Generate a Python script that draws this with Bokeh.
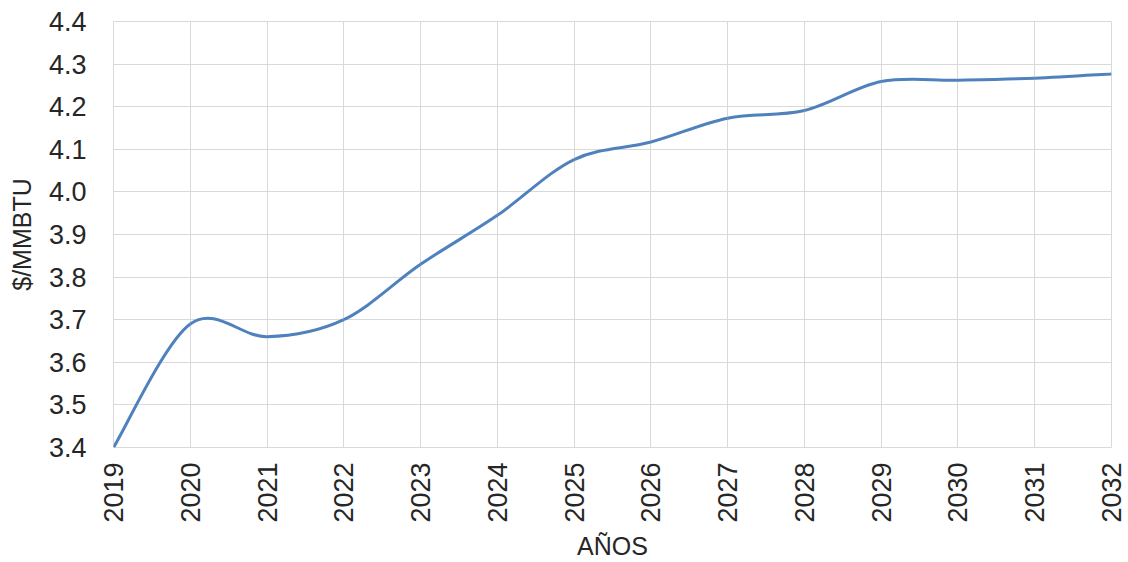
from bokeh.plotting import figure
from bokeh.models import Range1d, FixedTicker, ColumnDataSource, NumeralTickFormatter
from bokeh.embed import file_html
from bokeh.resources import INLINE
import math

years = [2019, 2020, 2021, 2022, 2023, 2024, 2025, 2026, 2027, 2028, 2029, 2030, 2031, 2032]
prices = [3.40, 3.69, 3.66, 3.70, 3.83, 3.945, 4.076, 4.117, 4.173, 4.191, 4.259, 4.262, 4.267, 4.277]
y_ticks = [3.4, 3.5, 3.6, 3.7, 3.8, 3.9, 4.0, 4.1, 4.2, 4.3, 4.4]
x_label = "AÑOS"
y_label = "$/MMBTU"

FONT = "Liberation Sans"
TEXT = "#262626"
GRID = "#D9D9D9"
LINE = "#4F81BD"

# Smoothed line (Bezier segments, Catmull-Rom style control points)
k = 1.0 / 6.0
n = len(years)
x0, y0, x1, y1, cx0, cy0, cx1, cy1 = [], [], [], [], [], [], [], []
for i in range(n - 1):
    pm = i - 1 if i > 0 else i
    pp = i + 2 if i + 2 < n else i + 1
    x0.append(years[i]); y0.append(prices[i])
    x1.append(years[i + 1]); y1.append(prices[i + 1])
    cx0.append(years[i] + (years[i + 1] - years[pm]) * k)
    cy0.append(prices[i] + (prices[i + 1] - prices[pm]) * k)
    cx1.append(years[i + 1] - (years[pp] - years[i]) * k)
    cy1.append(prices[i + 1] - (prices[pp] - prices[i]) * k)
src = ColumnDataSource(dict(x0=x0, y0=y0, x1=x1, y1=y1, cx0=cx0, cy0=cy0, cx1=cx1, cy1=cy1))

p = figure(width=1128, height=562, output_backend="svg", toolbar_location=None,
           x_range=Range1d(years[0], years[-1]), y_range=Range1d(y_ticks[0], y_ticks[-1]),
           min_border_left=113, min_border_right=17, min_border_top=21, min_border_bottom=115)
p.background_fill_color = "white"
p.border_fill_color = "white"
p.outline_line_color = GRID

p.bezier(x0="x0", y0="y0", x1="x1", y1="y1", cx0="cx0", cy0="cy0", cx1="cx1", cy1="cy1",
         source=src, line_color=LINE, line_width=3)

p.xaxis.ticker = FixedTicker(ticks=years)
p.yaxis.ticker = FixedTicker(ticks=y_ticks)
p.yaxis.formatter = NumeralTickFormatter(format="0.0")
p.xgrid.ticker = FixedTicker(ticks=years)
p.ygrid.ticker = FixedTicker(ticks=y_ticks)
for g in (p.xgrid, p.ygrid):
    g.grid_line_color = GRID
    g.grid_line_width = 1

for ax in (p.xaxis, p.yaxis):
    ax.axis_line_color = None
    ax.major_tick_line_color = None
    ax.minor_tick_line_color = None
    ax.major_tick_out = 0
    ax.major_tick_in = 0
    ax.minor_tick_out = 0
    ax.major_label_text_font = FONT
    ax.major_label_text_font_size = "27px"
    ax.major_label_text_color = TEXT
    ax.axis_label_text_font = FONT
    ax.axis_label_text_font_size = "25px"
    ax.axis_label_text_font_style = "normal"
    ax.axis_label_text_color = TEXT

p.xaxis.major_label_orientation = math.pi / 2
p.xaxis.major_label_standoff = 15
p.xaxis.axis_label = x_label
p.xaxis.axis_label_standoff = 6
p.yaxis.major_label_standoff = 27
p.yaxis.axis_label = y_label
p.yaxis.axis_label_standoff = 10

open("out.html", "w").write(file_html(p, INLINE))
